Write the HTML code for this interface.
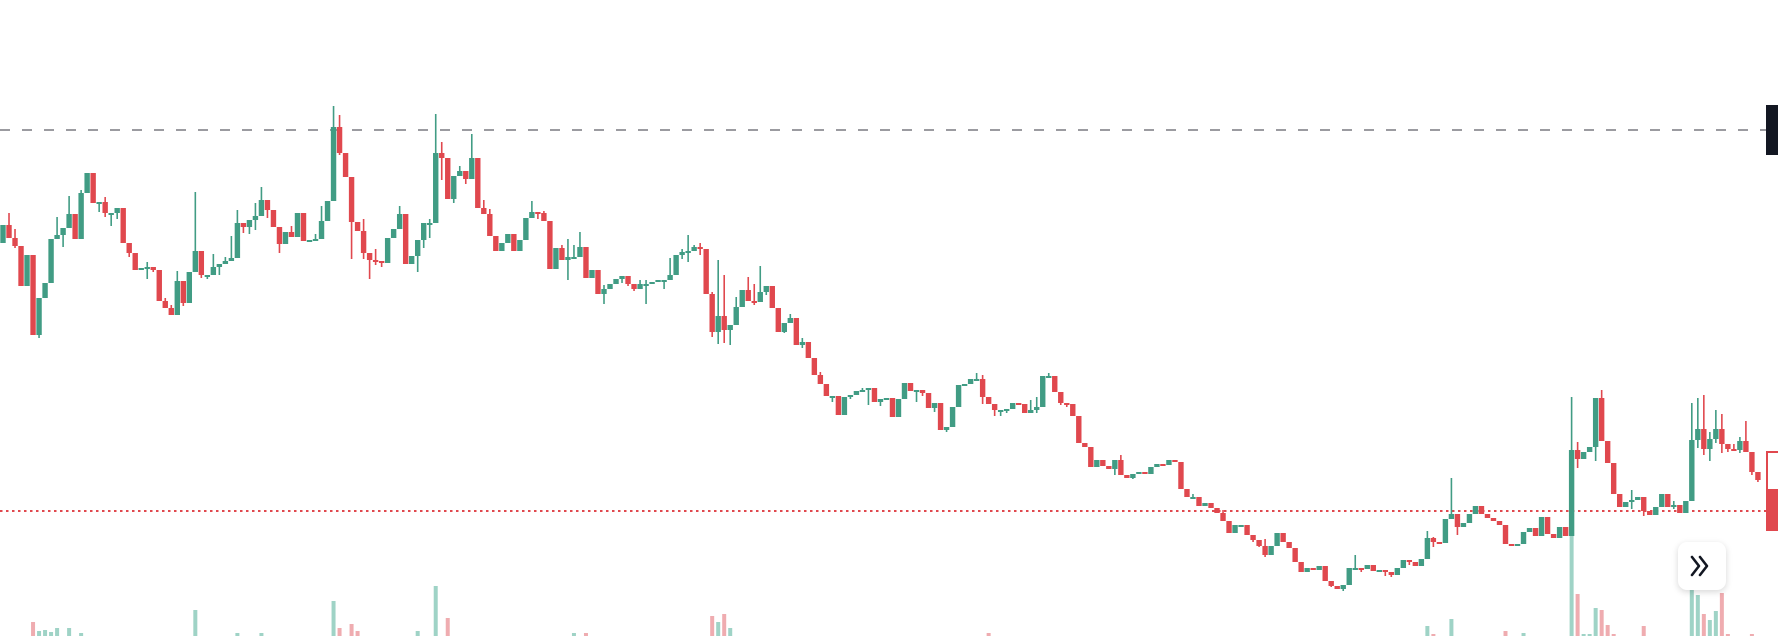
<!DOCTYPE html>
<html><head><meta charset="utf-8"><style>
html,body{margin:0;padding:0;background:#fff;width:1778px;height:636px;overflow:hidden;font-family:"Liberation Sans",sans-serif}
#btn{position:absolute;left:1678px;top:542px;width:48px;height:48px;background:#fff;border-radius:9px;box-shadow:0 2px 7px rgba(0,0,0,0.16)}
</style></head><body>
<svg id="chart" width="1778" height="636" style="position:absolute;left:0;top:0">
<g id="vol"></g>
<line x1="0" y1="130" x2="1766" y2="130" stroke="#9b9ba0" stroke-width="2" stroke-dasharray="10 12"/>
<line x1="0" y1="511" x2="1766" y2="511" stroke="#e0484e" stroke-width="2" stroke-dasharray="2.5 3.5"/>
<g id="candles"></g>
<path d="M1767 489 V452 H1778" fill="none" stroke="#e0484e" stroke-width="2"/>
<rect x="1766" y="489" width="12" height="42" fill="#e0484e"/>
<rect x="1766" y="105" width="12" height="50" fill="#131722"/>
</svg>
<div id="btn">
<svg width="48" height="48"><path d="M14 15 L21 24 L14 33 M22 15 L29 24 L22 33" fill="none" stroke="#131722" stroke-width="2.6" stroke-linecap="round" stroke-linejoin="round"/></svg>
</div>
<script>
const closes=[375,362,354,314,345,265,302,317,361,365,372,386,361,407,427,397,398,387,387,392,357,347,330,332,333,330,299,292,285,319,297,328,349,325,325,333,336,339,342,377,373,380,384,400,390,373,356,368,363,387,
359,360,361,379,399,473,447,423,378,369,347,340,339,337,362,371,386,336,344,360,377,377,447,442,401,424,429,421,442,392,386,364,349,357,366,349,360,382,388,387,379,331,352,340,343,343,353,322,330,306,
311,316,321,324,316,311,316,316,318,320,320,325,345,348,349,353,351,306,268,284,270,275,293,310,299,298,308,314,292,268,277,282,255,258,242,225,216,204,204,185,203,205,209,210,212,198,201,202,183,201,
217,209,210,207,192,197,170,173,193,215,216,221,221,203,196,190,
190,191,197,196,187,190,193,224,224,208,197,196,184,157,153,133,140,134,131,140,125,122,126,128,126,133,136,135,140,138,111,103,103,94,97,92,87,79,67,75,75,65,60,54,45,54,67,58,52,38,28,32,30,34,19,14,11,15,32,32,31,35,29,30,28,25,32,
40,38,34,41,62,58,57,81,86,73,77,86,94,86,82,79,75,56,54,56,68,72,64,83,66,62,73,64,150,141,148,153,202,159,137,106,93,98,100,103,89,85,93,106,93,95,87,99,160,171,151,161,171,156,151,150,159,148,128,120];
const firstOpen=357;
const highIdx=[1,2,9,11,13,17,24,27,28,29,32,35,37,38,39,42,43,48,52,53,55,56,60,62,66,71,72,73,76,78,80,81,88,90,93,94,95,96,100,106,107,111,113,114,115,116,118,119,120,122,124,125,126,131,133,136,143,162,163,171,172,174,186,198,203,210,225,237,238,241,261,262,266,271,278,281,282,283,284,285,286,288,289,290];
const highVals=[387,371,383,404,410,403,338,302,295,329,408,346,343,364,390,397,413,374,366,394,494,485,381,351,394,381,486,458,434,466,400,391,399,389,355,361,355,368,315,320,320,342,351,365,355,357,308,340,325,303,323,316,334,286,262,228,212,227,225,200,203,227,145,106,90,61,45,69,63,122,203,158,210,110,99,197,202,205,168,190,186,156,163,179];
const lowIdx=[2,6,10,16,17,18,19,21,24,25,30,33,34,36,40,41,42,44,46,56,58,60,61,62,63,69,70,71,73,75,77,89,94,100,103,104,105,107,110,113,114,116,118,119,120,121,125,127,130,133,138,141,144,146,152,153,155,157,163,165,166,167,172,176,177,185,188,208,209,210,221,223,225,226,230,231,234,238,242,262,265,271,273,278,282,283,284,285,286,287,289,291,292];
const lowVals=[352,262,353,388,383,374,381,343,321,328,294,322,321,325,367,366,370,382,347,445,341,341,321,335,333,328,352,362,420,397,416,381,320,296,317,314,309,296,311,341,338,345,263,256,257,255,295,305,267,252,198,201,195,194,198,204,188,168,196,184,184,187,187,195,193,125,121,58,53,43,13,9,30,28,24,23,35,53,65,132,139,91,84,91,152,145,139,157,147,148,147,125,118];
const volIdx=[5,6,7,8,9,11,13,32,39,43,55,56,58,59,69,72,74,95,97,118,119,120,121,164,237,238,241,250,253,261,262,263,264,265,266,267,268,273,281,282,283,284,285,286,287,291];
const volVals=[14,5,6,4,8,8,3,26,3,3,35,8,12,5,5,50,18,3,3,20,14,22,8,3,10,2,17,5,3,103,42,2,2,28,26,11,2,10,50,41,22,16,25,43,2,2];

const NS='http://www.w3.org/2000/svg';
const xScale=i=>3+6.01*i;
const yScale=p=>600-p;
const vScale=v=>636-v;
const GREEN='#419c84',RED='#e0484e';
const opens=closes.map((c,i)=>i===0?firstOpen:closes[i-1]);
const highs=closes.map((c,i)=>Math.max(c,opens[i]));
const lows=closes.map((c,i)=>Math.min(c,opens[i]));
highIdx.forEach((k,j)=>{highs[k]=Math.max(highs[k],highVals[j]);});
lowIdx.forEach((k,j)=>{lows[k]=Math.min(lows[k],lowVals[j]);});
const cg=document.getElementById('candles');
closes.forEach((c,i)=>{
  const o=opens[i],up=c>=o,col=up?GREEN:RED,x=xScale(i);
  const w=document.createElementNS(NS,'line');
  
  
  w.setAttribute('x1',x);w.setAttribute('x2',x);
  w.setAttribute('y1',yScale(highs[i]));w.setAttribute('y2',yScale(lows[i]));
  w.setAttribute('stroke',col);w.setAttribute('stroke-width','1.6');
  cg.appendChild(w);
  const r=document.createElementNS(NS,'rect');
  
  
  const top=yScale(Math.max(o,c)),h=Math.max(2,Math.abs(o-c));
  r.setAttribute('x',x-2.7);r.setAttribute('y',top);r.setAttribute('width',5.4);r.setAttribute('height',h);
  r.setAttribute('fill',col);
  cg.appendChild(r);
});
const vg=document.getElementById('vol');
volIdx.forEach((k,j)=>{
  const up=closes[k]>=opens[k];
  const r=document.createElementNS(NS,'rect');
  
  
  r.setAttribute('x',xScale(k)-2);r.setAttribute('y',vScale(volVals[j]));
  r.setAttribute('width',4);r.setAttribute('height',volVals[j]);
  r.setAttribute('fill',up?'#9fd3c6':'#efacb0');
  vg.appendChild(r);
});
</script>
</body></html>
